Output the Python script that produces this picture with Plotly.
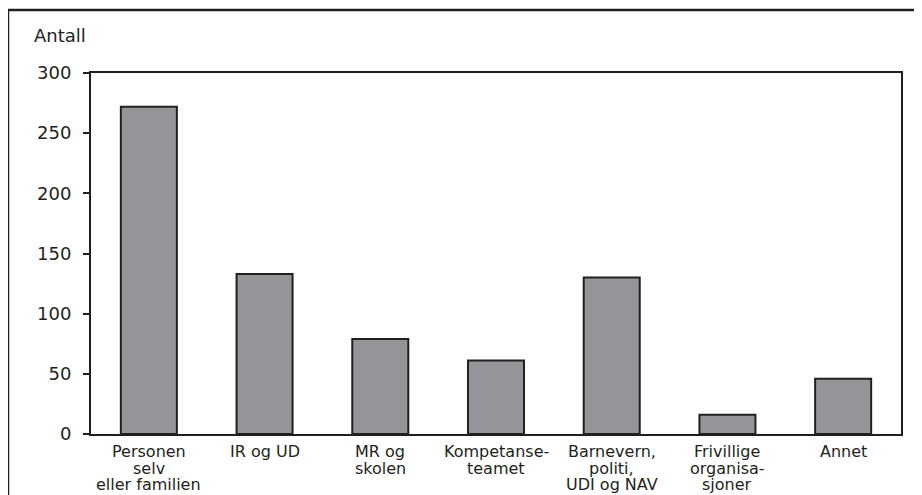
import plotly.graph_objects as go

categories = ["Personen<br>selv<br>eller familien", "IR og UD", "MR og<br>skolen",
              "Kompetanse-<br>teamet", "Barnevern,<br>politi,<br>UDI og NAV",
              "Frivillige<br>organisa-<br>sjoner", "Annet"]
values = [272, 133, 79, 61, 130, 16, 46]
y_ticks = [0, 50, 100, 150, 200, 250, 300]

FONT = "DejaVu Sans"
INK = "#231f20"

fig = go.Figure(go.Bar(
    x=list(range(len(categories))), y=values,
    width=0.484,
    marker=dict(color="#939598", line=dict(color=INK, width=2)),
))

annotations = [
    dict(text="Antall", xref="paper", yref="paper", x=-0.073, y=1.069,
         xanchor="left", yanchor="bottom", showarrow=False,
         font=dict(size=18, family=FONT, color=INK)),
    dict(text="Figur", xref="paper", yref="paper", x=-0.112, y=1.182,
         xanchor="left", yanchor="bottom", showarrow=False,
         font=dict(size=16, family=FONT, color=INK)),
]
# category labels, one annotation per line for tight line spacing
for i, lab in enumerate(categories):
    for j, line in enumerate(lab.split("<br>")):
        annotations.append(dict(
            text=line, xref="x", yref="y", x=i, y=0,
            xanchor="center", yanchor="top", yshift=-6 - 16.6 * j,
            showarrow=False, font=dict(size=16, family=FONT, color=INK)))

fig.update_layout(
    width=922, height=495,
    margin=dict(l=83, r=29, t=65, b=69),
    paper_bgcolor="white", plot_bgcolor="white",
    showlegend=False,
    font=dict(family=FONT, color=INK),
    xaxis=dict(
        range=[-0.5, 6.5], tickmode="array",
        tickvals=list(range(len(categories))), showticklabels=False,
        showgrid=False, zeroline=False, showline=True, linecolor=INK, linewidth=2,
        mirror=True, ticks="", automargin=False,
    ),
    yaxis=dict(
        range=[0, 300], tickmode="array", tickvals=y_ticks,
        showgrid=False, zeroline=False, showline=True, linecolor=INK, linewidth=2,
        mirror=True, ticks="outside", ticklen=6, tickwidth=1.5, tickcolor=INK,
        ticklabelstandoff=8, automargin=False,
        tickfont=dict(size=18, family=FONT, color=INK),
    ),
    annotations=annotations,
    shapes=[
        dict(type="rect", xref="paper", yref="paper",
             x0=-0.1025, x1=1.2, y0=-0.4, y1=1.1745,
             line=dict(color=INK, width=2.5), fillcolor="rgba(0,0,0,0)", layer="above"),
    ],
)

fig.write_html("out.html")
